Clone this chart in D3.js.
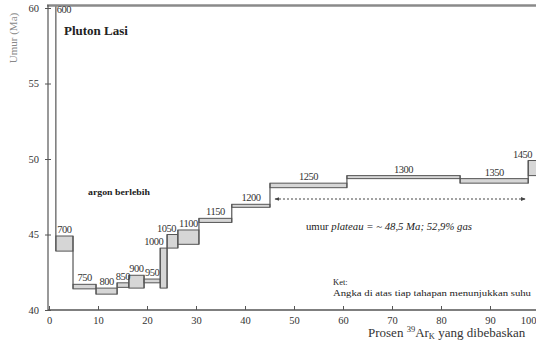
<!DOCTYPE html>
<html>
<head>
<meta charset="utf-8">
<script src="https://cdn.jsdelivr.net/npm/d3@7"></script>
<style>
body { margin: 0; background: #fff; overflow: hidden; }
svg { display: block; }
text { font-family: "Liberation Serif", "DejaVu Serif", serif; }
</style>
</head>
<body>
<script>
var w = 536;
var h = 349;

// step heating data: temperature (C), cumulative % 39ArK released, age band (Ma)
var temps  = [600, 700, 750, 800, 850, 900, 950, 1000, 1050, 1100, 1150, 1200, 1250, 1300, 1350, 1450];
var cumLo  = [0, 1.4, 4.9, 9.6, 13.9, 16.3, 19.4, 22.7, 24.1, 26.3, 30.6, 37.3, 45.1, 60.8, 83.9, 97.8];
var cumHi  = [1.4, 4.9, 9.6, 13.9, 16.3, 19.4, 22.7, 24.1, 26.3, 30.6, 37.3, 45.1, 60.8, 83.9, 97.8, 100];
var ageLo  = [61.0, 43.9, 41.4, 41.05, 41.5, 41.45, 41.8, 41.45, 44.1, 44.35, 45.8, 46.8, 48.1, 48.7, 48.4, 48.9];
var ageHi  = [66.0, 44.9, 41.7, 41.45, 41.8, 42.3, 42.05, 44.1, 45.0, 45.3, 46.07, 47.0, 48.4, 48.9, 48.7, 49.9];

var xTicks = [0, 10, 20, 30, 40, 50, 60, 70, 80, 90, 100];
var yTicks = [40, 45, 50, 55, 60];
var plateau = [45.1, 98]; // arrow span, % gas

// small label nudges (px)
var nudge = {1000: [-10, 0], 1050: [-6, 0], 1450: [-11, 0]};

var x = d3.scaleLinear().domain([0, 100]).range([49, 539]);
var y = d3.scaleLinear().domain([40, 60]).range([310, 8]);

var svg = d3.select("body").append("svg")
    .attr("width", w)
    .attr("height", h);

var defs = svg.append("defs");
defs.append("clipPath").attr("id", "plot")
    .append("rect")
    .attr("x", 49).attr("y", 5)
    .attr("width", w - 49).attr("height", 306);

var steps = temps.map(function(t, i) {
    return {t: t, x0: cumLo[i], x1: cumHi[i], lo: ageLo[i], hi: ageHi[i]};
});

var g = svg.append("g").attr("clip-path", "url(#plot)");

// boxes
g.selectAll("rect.step")
    .data(steps)
    .enter().append("rect")
    .attr("class", "step")
    .attr("x", function(d) { return x(d.x0); })
    .attr("y", function(d) { return y(d.hi); })
    .attr("width", function(d) { return x(d.x1) - x(d.x0); })
    .attr("height", function(d) { return Math.max(2.5, y(d.lo) - y(d.hi)); })
    .attr("fill", "#d6d6d6")
    .attr("stroke", "#555")
    .attr("stroke-width", 1);

// vertical connectors between steps
g.selectAll("line.conn")
    .data(steps.slice(1))
    .enter().append("line")
    .attr("x1", function(d) { return x(d.x0); })
    .attr("x2", function(d) { return x(d.x0); })
    .attr("y1", function(d, i) { return y(Math.min(d.lo, steps[i].lo)); })
    .attr("y2", function(d, i) { return y(Math.max(d.hi, steps[i].hi)); })
    .attr("stroke", "#555")
    .attr("stroke-width", 1.2);

// top frame
svg.append("line")
    .attr("x1", 47).attr("x2", w)
    .attr("y1", 5.5).attr("y2", 5.5)
    .attr("stroke", "#8a8a8a")
    .attr("stroke-width", 2.5);

// axes
var xAxis = d3.axisBottom(x).tickValues(xTicks).tickSizeInner(-4).tickSizeOuter(0).tickPadding(7);
var yAxis = d3.axisLeft(y).tickValues(yTicks).tickSizeInner(3).tickSizeOuter(0).tickPadding(6);

var gx = svg.append("g").attr("transform", "translate(0," + y(40) + ")").call(xAxis);
gx.select(".domain").attr("d", "M48,0H" + w).attr("stroke", "#555").attr("stroke-width", 1.5);
gx.selectAll("line").attr("stroke", "#555");
gx.selectAll("text").attr("font-family", "Liberation Serif").attr("font-size", 10.5).attr("fill", "#333");
// last tick label would run off the page edge
gx.selectAll(".tick text").filter(function(d) { return d === 100; })
    .attr("text-anchor", "end").attr("x", w - x(100));

var gy = svg.append("g").attr("transform", "translate(48,0)").call(yAxis);
gy.select(".domain").attr("d", "M0,5V" + y(40)).attr("stroke", "#555").attr("stroke-width", 1.2);
gy.selectAll("line").attr("x1", 3).attr("stroke", "#555");
gy.selectAll("text").attr("font-family", "Liberation Serif").attr("font-size", 10.5).attr("fill", "#333");

// step temperature labels
svg.selectAll("text.temp")
    .data(steps)
    .enter().append("text")
    .attr("class", "temp")
    .attr("x", function(d) {
        var n = nudge[d.t] || [0, 0];
        if (d.t === 600) return x(d.x1) + 1;
        return (x(d.x0) + x(d.x1)) / 2 + n[0];
    })
    .attr("y", function(d) {
        if (d.t === 600) return 13;
        return y(d.hi) - 3;
    })
    .attr("text-anchor", function(d) { return d.t === 600 ? "start" : "middle"; })
    .attr("font-size", 10.5)
    .attr("letter-spacing", -0.5)
    .attr("fill", "#333")
    .text(function(d) { return d.t; });

// titles and notes
svg.append("text")
    .attr("x", 64).attr("y", 35)
    .attr("font-size", 13).attr("font-weight", "bold")
    .attr("fill", "#222")
    .text("Pluton Lasi");

svg.append("text")
    .attr("x", 88).attr("y", 195)
    .attr("font-size", 9).attr("font-weight", "bold")
    .attr("textLength", 62).attr("lengthAdjust", "spacingAndGlyphs")
    .attr("fill", "#222")
    .text("argon berlebih");

svg.append("text")
    .attr("transform", "translate(17,38) rotate(-90)")
    .attr("text-anchor", "middle")
    .attr("font-size", 11)
    .attr("fill", "#888")
    .text("Umur (Ma)");

// plateau arrow
defs.append("marker").attr("id", "ah")
    .attr("viewBox", "0 0 10 10").attr("refX", 9).attr("refY", 5)
    .attr("markerWidth", 5).attr("markerHeight", 5).attr("orient", "auto-start-reverse")
    .append("path").attr("d", "M0,1L10,5L0,9Z").attr("fill", "#444");

svg.append("line")
    .attr("x1", x(plateau[0]) + 5).attr("x2", x(plateau[1]) - 4)
    .attr("y1", 199).attr("y2", 199)
    .attr("stroke", "#444").attr("stroke-width", 1)
    .attr("stroke-dasharray", "2,2")
    .attr("marker-start", "url(#ah)")
    .attr("marker-end", "url(#ah)");

var pt = svg.append("text")
    .attr("x", 306).attr("y", 230)
    .attr("font-size", 10.5)
    .attr("textLength", 166).attr("lengthAdjust", "spacingAndGlyphs")
    .attr("fill", "#222");
pt.append("tspan").text("umur ");
pt.append("tspan").attr("font-style", "italic").text("plateau");
pt.append("tspan").attr("font-style", "italic").text(" = ~ 48,5 Ma; 52,9% gas");

svg.append("text")
    .attr("x", 333).attr("y", 285)
    .attr("font-size", 8.5).attr("fill", "#222")
    .text("Ket:");
svg.append("text")
    .attr("x", 333).attr("y", 296)
    .attr("font-size", 8.5).attr("fill", "#222")
    .attr("textLength", 198).attr("lengthAdjust", "spacingAndGlyphs")
    .text("Angka di atas tiap tahapan menunjukkan suhu");

// x axis title
var xt = svg.append("text")
    .attr("x", 368).attr("y", 337)
    .attr("font-size", 13).attr("fill", "#333");
xt.append("tspan").text("Prosen ");
xt.append("tspan").attr("font-size", 8.5).attr("dy", -5).text("39");
xt.append("tspan").attr("dy", 5).text("Ar");
xt.append("tspan").attr("font-size", 8.5).attr("dy", 2).text("K");
xt.append("tspan").attr("dy", -2).text(" yang dibebaskan");
</script>
</body>
</html>
